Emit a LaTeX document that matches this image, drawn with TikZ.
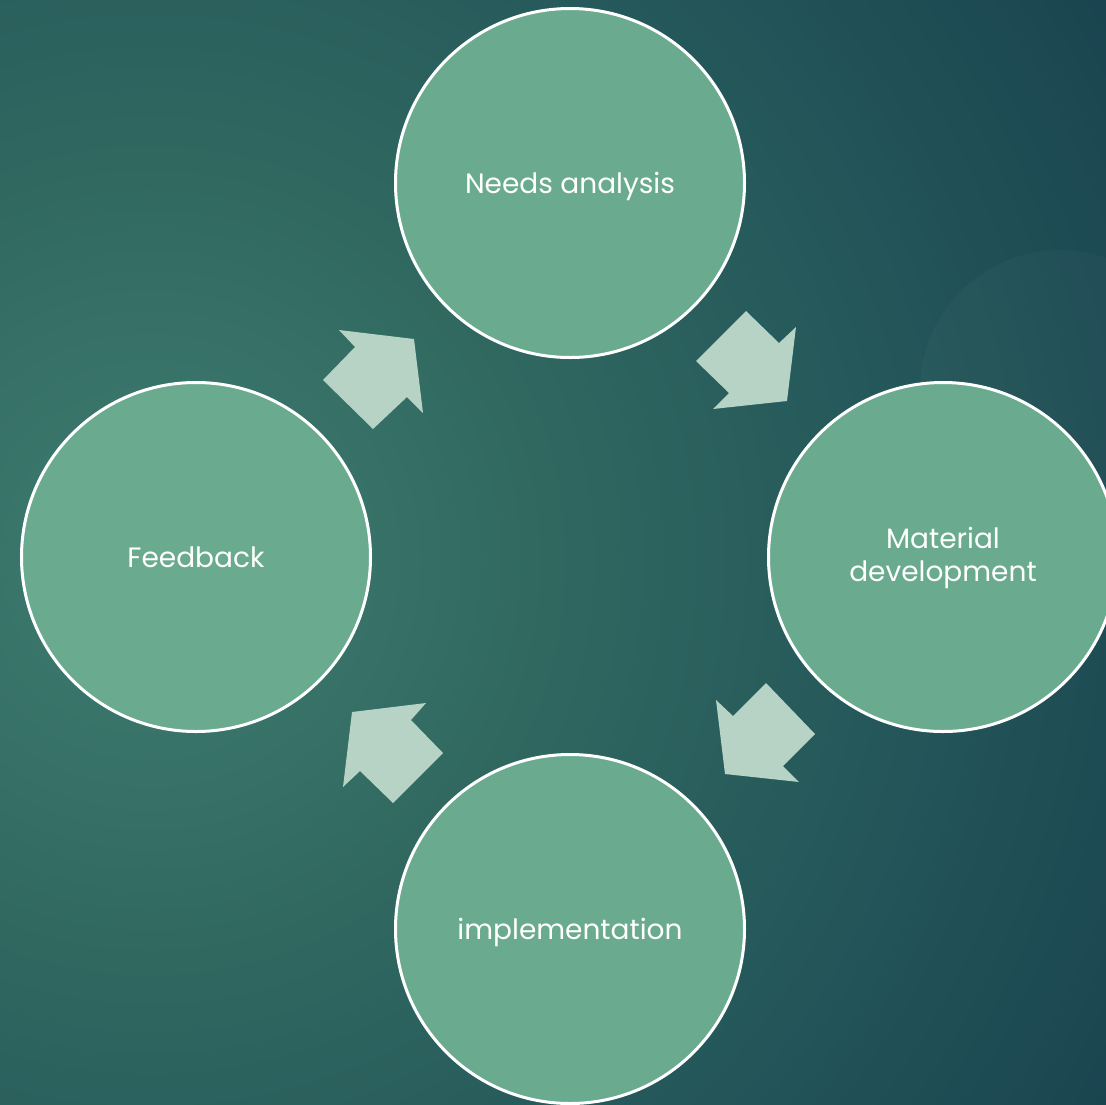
\documentclass[tikz,border=0pt]{standalone}
\usepackage{fontspec}
\setmainfont{Poppins}
\definecolor{circfill}{HTML}{6AAB8F}
\definecolor{arrowfill}{HTML}{B7D3C5}
\definecolor{bgA}{HTML}{3F7C70}
\definecolor{bgB}{HTML}{306860}
\definecolor{bgC}{HTML}{24575A}
\definecolor{bgD}{HTML}{1A4550}
\definecolor{bgE}{HTML}{183F4C}
\pgfdeclareradialshading{bgglow}{\pgfpoint{0bp}{0bp}}{color(0bp)=(bgA); color(8bp)=(bgB); color(15bp)=(bgC); color(22bp)=(bgD); color(25bp)=(bgE); color(50bp)=(bgE)}
\begin{document}
\begin{tikzpicture}[x=1pt,y=-1pt,
  stage/.style={circle, draw=white, line width=3pt, fill=circfill, minimum size=349pt, inner sep=0pt},
  stagetext/.style={text=white, font=\fontsize{28}{33}\selectfont, align=center, inner sep=0pt},
  blockarrow/.style={fill=arrowfill}]
\useasboundingbox (0,0) rectangle (1106,1104);
\clip (0,0) rectangle (1106,1104);
\shade[shading=bgglow] (150,560) circle (1250pt);
\fill[white, opacity=0.022] (1060,390) circle (140pt);
% block arrows
\fill[blockarrow] (746,311) -- (779,343) -- (796,327) -- (787,401) -- (713,409) -- (729,393) -- (696,361) -- cycle;
\fill[blockarrow] (766,683) -- (815,734) -- (783,766) -- (799,782) -- (725,774) -- (716,700) -- (733,716) -- cycle;
\fill[blockarrow] (426,703) -- (411,720) -- (443,753) -- (393,803) -- (360,771) -- (343,787) -- (352,712) -- cycle;
\fill[blockarrow] (339,330) -- (414,339) -- (423,413) -- (407,397) -- (373,429) -- (323,380) -- (355,347) -- cycle;
% stages
\node[stage] (needs) at (570,183) {};
\node[stage] (material) at (943,557) {};
\node[stage] (impl) at (570,929) {};
\node[stage] (feedback) at (196,557) {};
\node[stagetext, yshift=-3pt] (needs-t) at (needs.center) {Needs analysis};
\node[stagetext, yshift=-1pt] (material-t) at (material.center) {Material\\development};
\node[stagetext, yshift=-3pt] (impl-t) at (impl.center) {implementation};
\node[stagetext] (feedback-t) at (feedback.center) {Feedback};
\end{tikzpicture}
\end{document}
